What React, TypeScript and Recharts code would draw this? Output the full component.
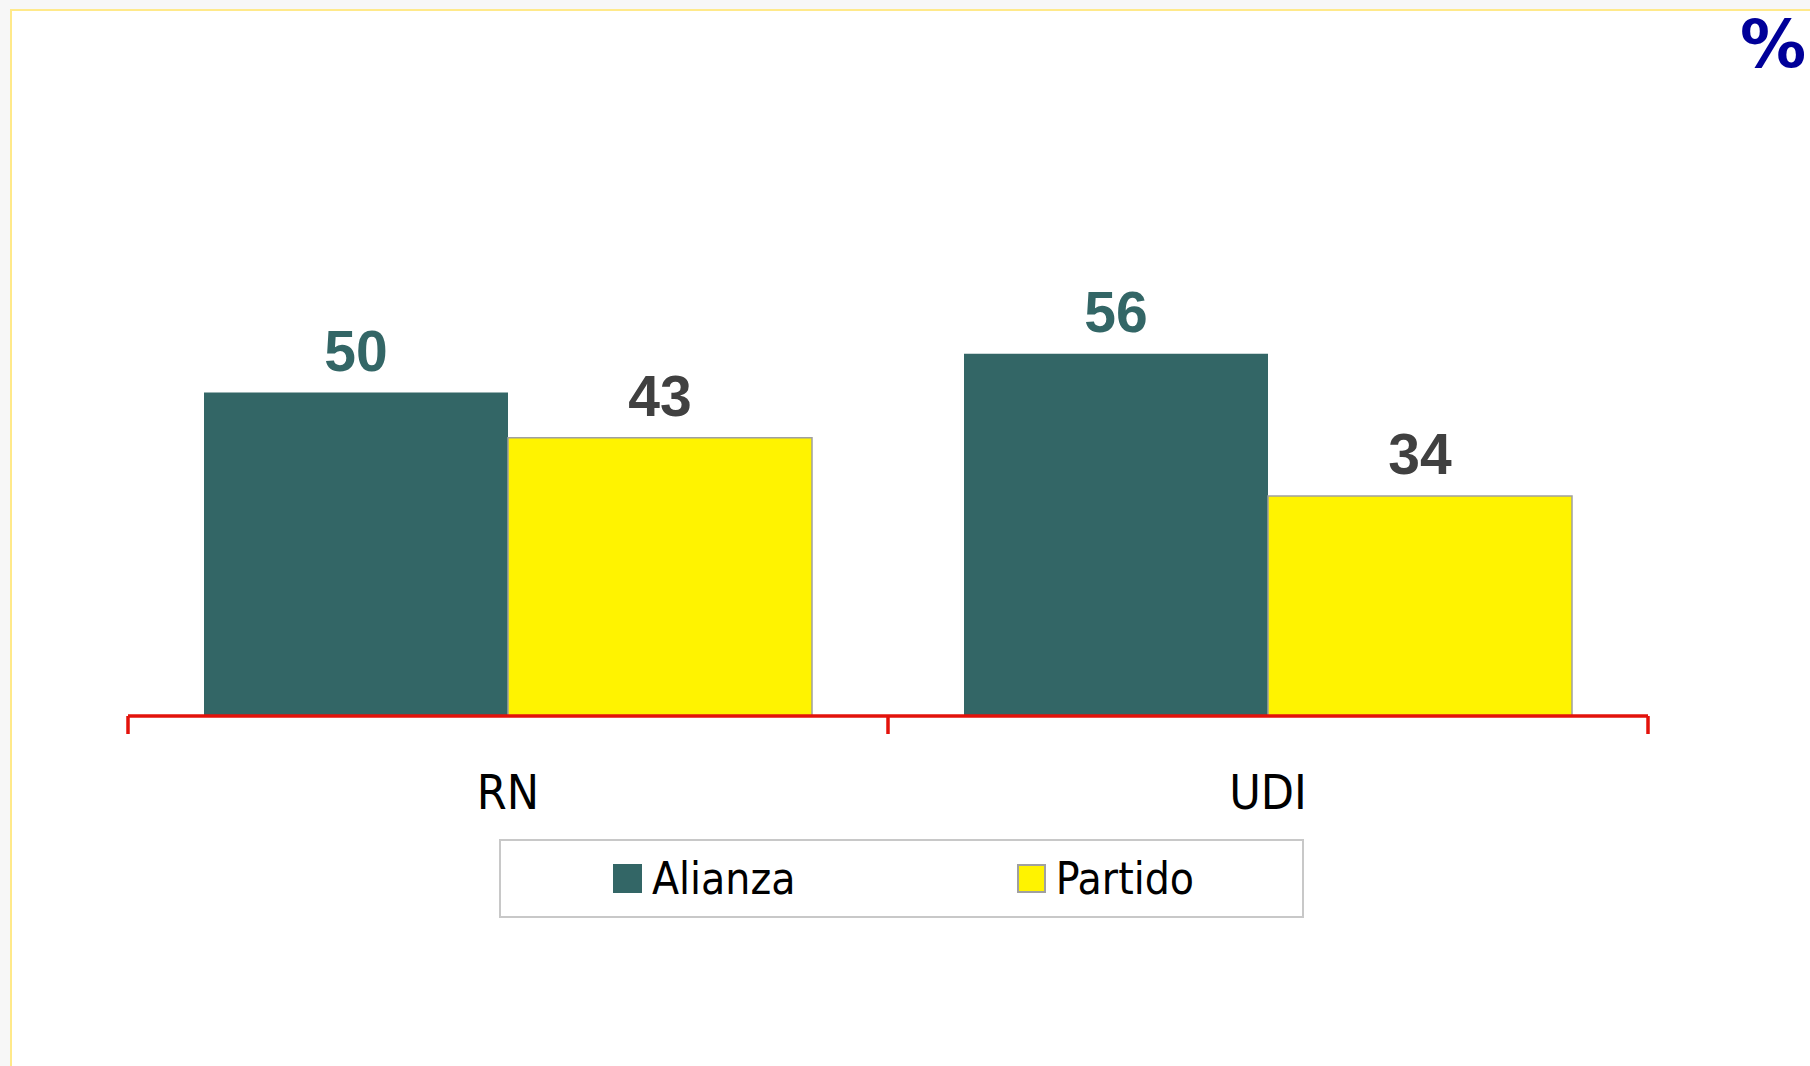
import { Bar, BarChart, LabelList, Legend, XAxis, YAxis } from "recharts";

const categories = ["RN", "UDI"];
const alianza = [50, 56];
const partido = [43, 34];
const seriesNames = ["Alianza", "Partido"];

const data = categories.map((name, i) => ({
  name,
  [seriesNames[0]]: alianza[i],
  [seriesNames[1]]: partido[i],
}));

const AXIS_RED = "#e3120b";
const TEAL = "#336666";
const YELLOW = "#fff300";
const LABEL_FONT = "'Liberation Sans', Arial, sans-serif";
const TEXT_FONT = "'DejaVu Sans Condensed', 'DejaVu Sans', sans-serif";

function EdgeTick(props: any) {
  const { x, y, payload, index, visibleTicksCount, width } = props;
  const half = payload?.offset ?? width / visibleTicksCount / 2;
  const isLast = index === visibleTicksCount - 1;
  return (
    <g>
      <line x1={x - half} x2={x - half} y1={y - 18} y2={y} stroke={AXIS_RED} strokeWidth={3.5} />
      {isLast && (
        <line x1={x + half} x2={x + half} y1={y - 18} y2={y} stroke={AXIS_RED} strokeWidth={3.5} />
      )}
      <text x={x} y={y + 75} textAnchor="middle" fontFamily={TEXT_FONT} fontSize={48} fill="#000">
        {payload.value}
      </text>
    </g>
  );
}

function LegendBox({ payload }: any) {
  return (
    <div
      style={{
        boxSizing: "border-box",
        width: "100%",
        height: "100%",
        border: "2px solid #c8c8c8",
        background: "#fff",
        display: "flex",
        alignItems: "center",
        justifyContent: "space-between",
        padding: "0 108px 0 112px",
      }}
    >
      {(payload ?? []).map((entry: any) => (
        <div key={entry.value} style={{ display: "flex", alignItems: "center" }}>
          <span
            style={{
              boxSizing: "border-box",
              display: "inline-block",
              width: 29,
              height: 29,
              background: entry.color,
              border: entry.value === "Partido" ? "2px solid #a0a0a0" : "none",
              marginRight: 10,
            }}
          />
          <span style={{ fontFamily: TEXT_FONT, fontSize: 44, color: "#000", lineHeight: 1 }}>
            {entry.value}
          </span>
        </div>
      ))}
    </div>
  );
}

export default function App() {
  return (
    <div
      style={{
        position: "absolute",
        left: 0,
        top: 0,
        width: 1810,
        height: 1066,
        overflow: "hidden",
        background: "#f7f7f7",
      }}
    >
      <div
        style={{
          position: "absolute",
          left: 10,
          top: 9,
          width: 1900,
          height: 1200,
          border: "2px solid #ffe98a",
          background: "#fff",
        }}
      />
      <div
        style={{
          position: "absolute",
          left: 1740,
          top: 12,
          fontFamily: "'DejaVu Sans', sans-serif",
          fontWeight: "bold",
          fontSize: 66,
          lineHeight: 1,
          color: "#000099",
          whiteSpace: "nowrap",
        }}
      >
        %
      </div>
      <div style={{ position: "absolute", left: 0, top: 0 }}>
        <BarChart
          width={1810}
          height={1066}
          data={data}
          margin={{ top: 69, right: 162, left: 128, bottom: 250 }}
          barCategoryGap="10%"
          barGap={0}
        >
          <XAxis
            dataKey="name"
            height={100}
            tickLine={false}
            tickSize={18}
            tickMargin={0}
            axisLine={{ stroke: AXIS_RED, strokeWidth: 3.5 }}
            tick={<EdgeTick />}
            interval={0}
          />
          <YAxis hide domain={[0, 100]} />
          <Legend
            layout="horizontal"
            verticalAlign="middle"
            align="center"
            content={<LegendBox />}
            wrapperStyle={{ position: "absolute", left: 499, top: 839, width: 805, height: 79 }}
          />
          <Bar dataKey="Alianza" fill={TEAL} isAnimationActive={false}>
            <LabelList
              dataKey="Alianza"
              position="top"
              offset={22}
              fill={TEAL}
              fontSize={57}
              fontWeight="bold"
              fontFamily={LABEL_FONT}
            />
          </Bar>
          <Bar dataKey="Partido" fill={YELLOW} stroke="#a0a0a0" strokeWidth={1.5} isAnimationActive={false}>
            <LabelList
              dataKey="Partido"
              position="top"
              offset={22}
              fill="#404040"
              fontSize={57}
              fontWeight="bold"
              fontFamily={LABEL_FONT}
            />
          </Bar>
        </BarChart>
      </div>
    </div>
  );
}
